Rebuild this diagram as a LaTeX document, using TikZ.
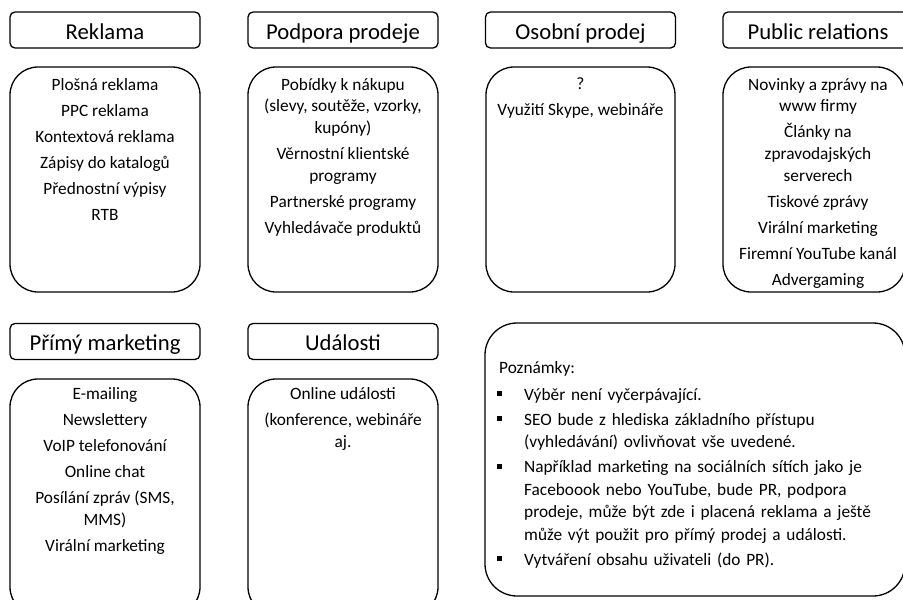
\documentclass[tikz,border=0pt]{standalone}
\usepackage{fontspec}
\setmainfont{Carlito}
\newcommand{\nbul}{\makebox[27pt][l]{\rule[4pt]{5pt}{5pt}}}
\begin{document}
\begin{tikzpicture}[x=1pt,y=-1pt,
  hbox/.style={draw, line width=1.3pt, rounded corners=5pt, minimum width=190pt,
    minimum height=36pt, inner sep=0pt, text height=18pt, text depth=0pt,
    font=\fontsize{22.7}{27}\selectfont},
  cbox/.style={draw, line width=1.3pt, rounded corners=28pt, inner sep=0pt},
  ctext/.style={anchor=north, align=center, inner sep=0pt,
    font=\fontsize{17.3}{21.7}\selectfont, execute at begin node=\strut}]
\useasboundingbox (0,0) rectangle (903,600);
% headers row 1
\node[hbox] (h1) at (105,30) {Reklama};
\node[hbox] (h2) at (343,30) {Podpora prodeje};
\node[hbox] (h3) at (580.5,30) {Osobní prodej};
\node[hbox] (h4) at (818,30) {Public relations};
% content boxes row 1
\node[cbox, minimum width=190pt, minimum height=225pt] (c1) at (105,179.5) {};
\node[cbox, minimum width=190pt, minimum height=225pt] (c2) at (343,179.5) {};
\node[cbox, minimum width=189pt, minimum height=225pt] (c3) at (580.5,179.5) {};
\node[cbox, minimum width=182pt, minimum height=225pt] (c4) at (814,179.5) {};
\node[ctext] (t1) at (105,77.8) {Plošná reklama\\[4.3pt]PPC reklama\\[4.3pt]Kontextová reklama\\[4.3pt]Zápisy do katalogů\\[4.3pt]Přednostní výpisy\\[4.3pt]RTB};
\node[ctext] (t2) at (343,77.8) {Pobídky k nákupu\\(slevy, soutěže, vzorky,\\kupóny)\\[4.3pt]Věrnostní klientské\\programy\\[4.3pt]Partnerské programy\\[4.3pt]Vyhledávače produktů};
\node[ctext] (t3) at (580.5,77.8) {?\\[4.3pt]Využití Skype, webináře};
\node[ctext] (t4) at (818,77.8) {Novinky a zprávy na\\www firmy\\[4.3pt]Články na\\zpravodajských\\serverech\\[4.3pt]Tiskové zprávy\\[4.3pt]Virální marketing\\[4.3pt]Firemní YouTube kanál\\[4.3pt]Advergaming};
% headers row 2
\node[hbox] (h5) at (105,341.5) {Přímý marketing};
\node[hbox] (h6) at (343,341.5) {Události};
% content boxes row 2
\node[cbox, minimum width=190pt, minimum height=236pt] (c5) at (105,497) {};
\node[cbox, minimum width=190pt, minimum height=236pt] (c6) at (343,497) {};
\node[ctext] (t5) at (105,387.5) {E-mailing\\[4.3pt]Newslettery\\[4.3pt]VoIP telefonování\\[4.3pt]Online chat\\[4.3pt]Posílání zpráv (SMS,\\MMS)\\[4.3pt]Virální marketing};
\node[ctext] (t6) at (343,387.5) {Online události\\[4.3pt](konference, webináře\\aj.};
% notes
\node[cbox, rounded corners=32pt, minimum width=420pt, minimum height=273pt] (c7) at (695,459.5) {};
\node[anchor=north west, inner sep=0pt, align=left, text width=380pt,
  font=\fontsize{17.3}{22.5}\selectfont] (notes) at (497,357.2) {%
\strut\hspace*{2pt}Poznámky:\\[4.8pt]
\nbul Výběr není vyčerpávající.\\[2.5pt]
\nbul SEO bude z hlediska základního přístupu\\
\hspace*{27pt}(vyhledávání) ovlivňovat vše uvedené.\\[2.5pt]
\nbul Například marketing na sociálních sítích jako je\\
\hspace*{27pt}Faceboook nebo YouTube, bude PR, podpora\\
\hspace*{27pt}prodeje, může být zde i placená reklama a ještě\\
\hspace*{27pt}může výt použit pro přímý prodej a události.\\[2.5pt]
\nbul Vytváření obsahu uživateli (do PR).};
\end{tikzpicture}
\end{document}
